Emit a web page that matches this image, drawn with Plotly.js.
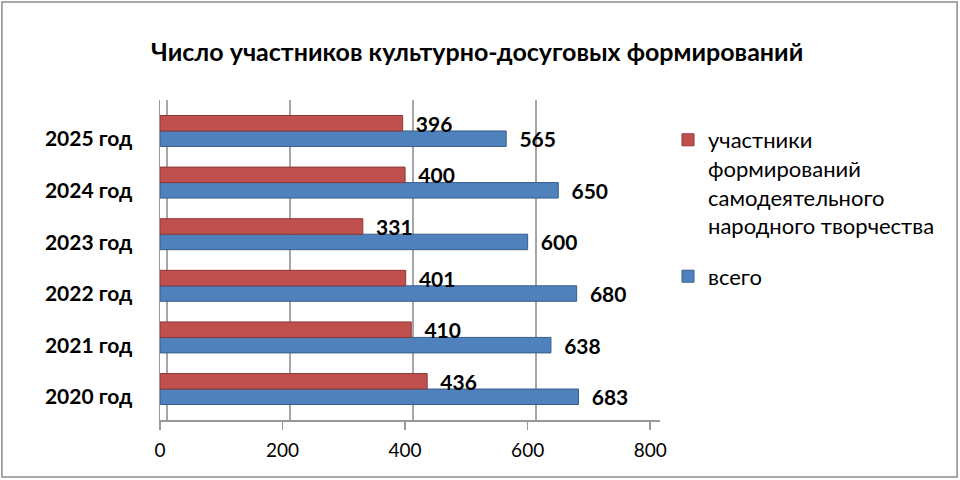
<!DOCTYPE html>
<html>
<head>
<meta charset="utf-8">
<script src="https://cdn.plot.ly/plotly-3.0.1.min.js"></script>
<style>html,body{margin:0;padding:0;background:#fff;}#chart{width:960px;height:480px;}</style>
</head>
<body>
<div id="chart"></div>
<script>
const categories = ["2020 год", "2021 год", "2022 год", "2023 год", "2024 год", "2025 год"];
const participants = [436, 410, 401, 331, 400, 396];
const total = [683, 638, 680, 600, 650, 565];
const seriesNames = ["участники<br>формирований<br>самодеятельного<br>народного творчества", "всего"];
const tickValues = [0, 200, 400, 600, 800];
const tickLabels = ["0", "200", "400", "600", "800"];

const FONT = "Lato, 'Open Sans', sans-serif";
const labelFont = {family: FONT, size: 21, color: "#000", weight: "bold"};

const traces = [
  {
    type: "bar", orientation: "h", name: seriesNames[1],
    y: categories, x: total,
    marker: {color: "#4F81BD", line: {color: "#385D8A", width: 1}},
    text: total.map(String), texttemplate: "\u00a0\u00a0%{text}",
    textposition: "outside", textfont: labelFont, cliponaxis: false, constraintext: "none",
    legendgroup: "b", legendrank: 2, hoverinfo: "x+y"
  },
  {
    type: "bar", orientation: "h", name: seriesNames[0],
    y: categories, x: participants,
    marker: {color: "#C0504D", line: {color: "#8C3836", width: 1}},
    text: participants.map(String), texttemplate: "\u00a0\u00a0%{text}",
    textposition: "outside", textfont: labelFont, cliponaxis: false, constraintext: "none",
    legendgroup: "a", legendrank: 1, hoverinfo: "x+y"
  },
  {
    type: "scatter", x: [], y: [], xaxis: "x2", yaxis: "y", showlegend: false, hoverinfo: "skip"
  }
];

const layout = {
  width: 960, height: 480,
  margin: {l: 0, r: 0, t: 0, b: 0},
  paper_bgcolor: "#fff", plot_bgcolor: "rgba(0,0,0,0)",
  font: {family: FONT, color: "#000"},
  title: {
    text: "<b>Число участников культурно-досуговых формирований</b>",
    font: {family: FONT, size: 25, color: "#000"},
    x: 0.497, xanchor: "center", y: 0.892, yanchor: "middle", yref: "container"
  },
  barmode: "group", bargap: 0.4, bargroupgap: 0,
  xaxis: {
    domain: [160/960, 660/960], range: [0, 816],
    tickvals: tickValues, ticktext: tickLabels,
    showgrid: false, zeroline: false,
    showline: true, linecolor: "#999", linewidth: 1.5,
    ticks: "outside", ticklen: 8, tickcolor: "#999", tickwidth: 1.5,
    ticklabelstandoff: 5,
    tickfont: {family: FONT, size: 19, color: "#000"}
  },
  xaxis2: {
    overlaying: "x", range: [-11.4, 801.6],
    tickvals: tickValues, showticklabels: false,
    showgrid: true, gridcolor: "#A6A6A6", gridwidth: 1.5,
    zeroline: false, showline: false
  },
  yaxis: {
    domain: [60/480, 380/480], range: [-0.6, 5.6],
    type: "category", categoryorder: "array", categoryarray: categories,
    showgrid: false, zeroline: false,
    showline: true, linecolor: "#999", linewidth: 1.5,
    ticks: "", ticklabelstandoff: 22, ticklabelshift: 8,
    tickfont: {family: FONT, size: 21, color: "#000", weight: "bold"}
  },
  legend: {
    x: 668/960, xanchor: "left", y: 1 - 119/480, yanchor: "top",
    traceorder: "grouped", tracegroupgap: 19, valign: "top",
    font: {family: FONT, size: 22, color: "#000"},
    bgcolor: "rgba(0,0,0,0)"
  },
  shapes: [
    {type: "rect", xref: "paper", yref: "paper", x0: 0.002, x1: 0.997, y0: 0.006, y1: 0.996,
     line: {color: "#8C8C8C", width: 1.5}, fillcolor: "rgba(0,0,0,0)", layer: "below"}
  ],
  showlegend: true
};

Plotly.newPlot("chart", traces, layout, {displayModeBar: false, staticPlot: true});
</script>
</body>
</html>
